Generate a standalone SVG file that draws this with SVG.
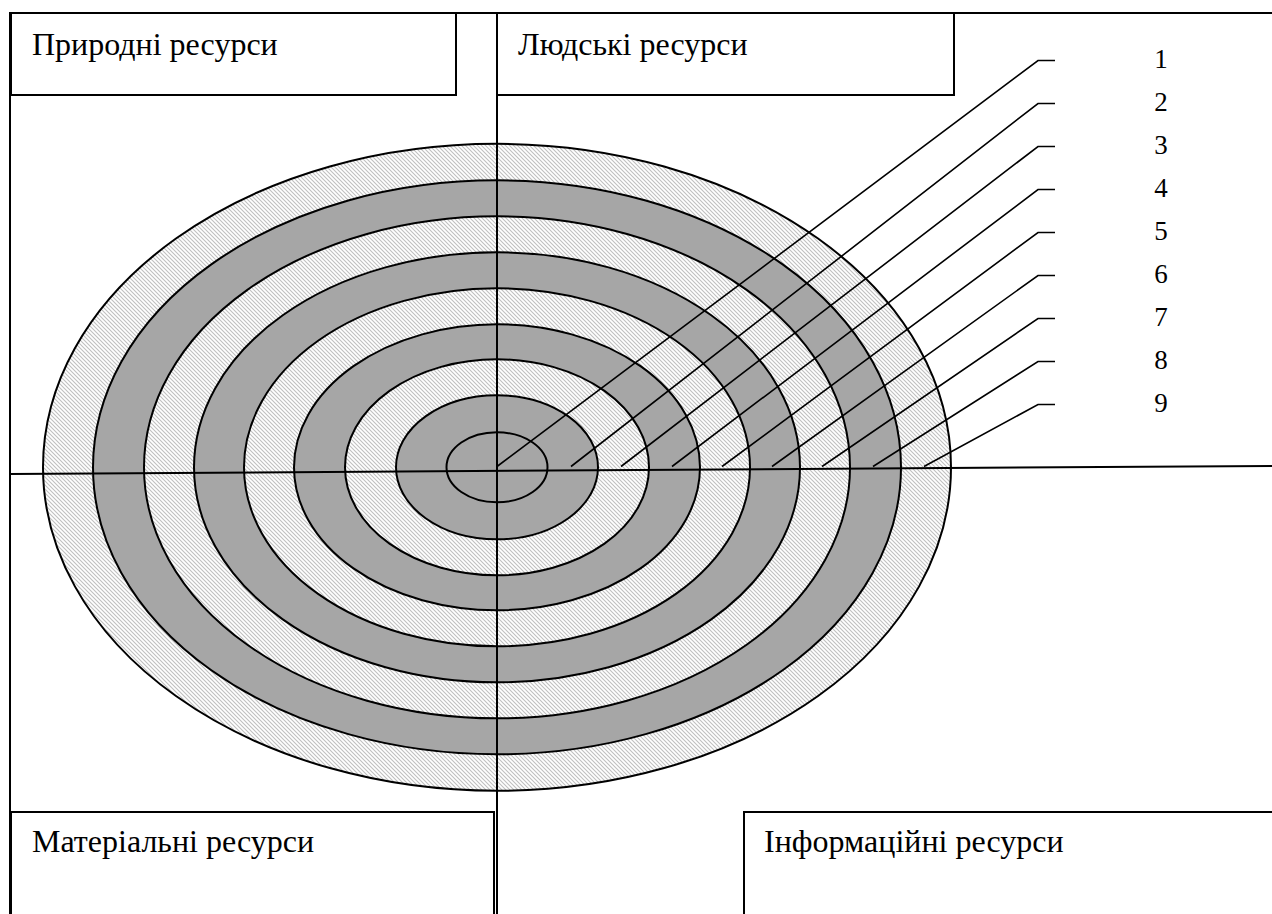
<svg xmlns="http://www.w3.org/2000/svg" width="1272" height="914" viewBox="0 0 1272 914">
<style>
.box{fill:#fff;stroke:#000;stroke-width:2}
.frame{fill:none;stroke:#000;stroke-width:2}
.ring{stroke:#000;stroke-width:2}
.gray{fill:#a6a6a6}
.hatch{fill:url(#hatch)}
.lbl{font-size:32px;fill:#000}
.num{font-size:27px;fill:#000;text-anchor:middle}
.lead{fill:none;stroke:#000;stroke-width:1.6}
</style>
<defs>
<pattern id="hatch" patternUnits="userSpaceOnUse" width="4" height="4">
<rect width="4" height="4" fill="#fff"/>
<path d="M-1,-1 L5,5 M-1,3 L1,5 M3,-1 L5,1" stroke="#c0c0c0" stroke-width="1.1"/>
</pattern>
</defs>
<rect width="1272" height="914" fill="#fff"/>
<g id="target">
<ellipse class="ring hatch" cx="497" cy="467.3" rx="454" ry="323.5"/>
<ellipse class="ring gray" cx="497" cy="467.3" rx="404" ry="287"/>
<ellipse class="ring hatch" cx="497" cy="467.3" rx="353" ry="251"/>
<ellipse class="ring gray" cx="497" cy="467.3" rx="303" ry="215"/>
<ellipse class="ring hatch" cx="497" cy="467.3" rx="253" ry="179"/>
<ellipse class="ring gray" cx="497" cy="467.3" rx="203" ry="143"/>
<ellipse class="ring hatch" cx="497" cy="467.3" rx="152" ry="108"/>
<ellipse class="ring gray" cx="497" cy="467.3" rx="101" ry="72"/>
<ellipse class="ring gray" cx="497" cy="467.3" rx="50.5" ry="35"/>
</g>
<g id="axes">
<line class="frame" x1="9" y1="13" x2="1272" y2="13"/>
<line class="frame" x1="10" y1="13" x2="10" y2="914"/>
<line class="frame" x1="497" y1="13" x2="497" y2="914"/>
<line class="frame" x1="10" y1="474" x2="1272" y2="466"/>
</g>
<g id="node-pryrodni">
<rect class="box" x="11" y="13" width="445" height="82"/>
<text class="lbl" x="32" y="55" font-family="'Liberation Serif', 'Times New Roman', Times, 'DejaVu Serif', serif">Природні ресурси</text>
</g>
<g id="node-liudski">
<rect class="box" x="497" y="13" width="457" height="82"/>
<text class="lbl" x="518" y="55" font-family="'Liberation Serif', 'Times New Roman', Times, 'DejaVu Serif', serif">Людські ресурси</text>
</g>
<g id="node-materialni">
<rect class="box" x="11" y="812" width="483" height="110"/>
<text class="lbl" x="32" y="852" font-family="'Liberation Serif', 'Times New Roman', Times, 'DejaVu Serif', serif">Матеріальні ресурси</text>
</g>
<g id="node-informatsiini">
<rect class="box" x="744" y="812" width="540" height="110"/>
<text class="lbl" x="764" y="852" font-family="'Liberation Serif', 'Times New Roman', Times, 'DejaVu Serif', serif">Інформаційні ресурси</text>
</g>
<g id="connectors">
<polyline class="lead" points="1055,60.5 1038,60.5 497,466.5"/>
<polyline class="lead" points="1055,103.5 1038,103.5 571,466.5"/>
<polyline class="lead" points="1055,146.5 1038,146.5 621,466.5"/>
<polyline class="lead" points="1055,189.5 1038,189.5 672,466.5"/>
<polyline class="lead" points="1055,232.5 1038,232.5 722,466.5"/>
<polyline class="lead" points="1055,275.5 1038,275.5 772,466.5"/>
<polyline class="lead" points="1055,318.5 1038,318.5 822,466.5"/>
<polyline class="lead" points="1055,361.5 1038,361.5 873,466.5"/>
<polyline class="lead" points="1055,404.5 1038,404.5 924,466.5"/>
</g>
<g id="labels" font-family="'Liberation Serif', 'Times New Roman', Times, 'DejaVu Serif', serif">
<text class="num" x="1161" y="68">1</text>
<text class="num" x="1161" y="111">2</text>
<text class="num" x="1161" y="154">3</text>
<text class="num" x="1161" y="197">4</text>
<text class="num" x="1161" y="240">5</text>
<text class="num" x="1161" y="283">6</text>
<text class="num" x="1161" y="326">7</text>
<text class="num" x="1161" y="369">8</text>
<text class="num" x="1161" y="412">9</text>
</g>
</svg>
